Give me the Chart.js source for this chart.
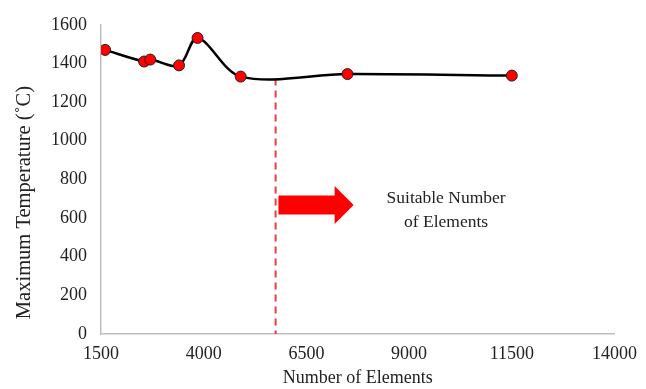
<!DOCTYPE html>
<html>
<head>
<meta charset="utf-8">
<script src="https://cdn.jsdelivr.net/npm/chart.js@4/dist/chart.umd.min.js"></script>
<style>
html,body{margin:0;padding:0;background:#fff;}
#wrap{width:646px;height:389px;}
</style>
</head>
<body>
<div id="wrap"><canvas id="c" width="646" height="389"></canvas></div>
<script>
// ---- data ----
const elements = [1600, 2550, 2700, 3400, 3850, 4900, 7500, 11500];
const maxTemp  = [1470, 1410, 1420, 1390, 1532, 1332, 1345, 1337];
const xTicks = [1500, 4000, 6500, 9000, 11500, 14000];
const yTicks = [0, 200, 400, 600, 800, 1000, 1200, 1400, 1600];
const cutoffX = [5750, 5750];
const cutoffY = [1322, 0];
const arrowX = [5820, 7650];   // tail, tip (data units)
const arrowY = 667;            // arrow axis level (data units)
const noteLines = ["Suitable Number", "of Elements"];
const noteX = 9900;
const noteY = [703, 577];
const yTitle = 'Maximum Temperature (˚C)';
const yTitleAt = 680;          // data value at title centre

const FONT = "'Liberation Serif', 'Times New Roman', serif";

const annot = {
  id: 'annot',
  afterDatasetsDraw(chart) {
    const {ctx, scales:{x, y}} = chart;
    const x0 = x.getPixelForValue(arrowX[0]);
    const x1 = x.getPixelForValue(arrowX[1]);
    const yc = y.getPixelForValue(arrowY);
    const bodyH = 19, headH = 38, headL = 19;
    ctx.save();
    ctx.fillStyle = '#ff0000';
    ctx.beginPath();
    ctx.moveTo(x0, yc - bodyH/2);
    ctx.lineTo(x1 - headL, yc - bodyH/2);
    ctx.lineTo(x1 - headL, yc - headH/2);
    ctx.lineTo(x1, yc);
    ctx.lineTo(x1 - headL, yc + headH/2);
    ctx.lineTo(x1 - headL, yc + bodyH/2);
    ctx.lineTo(x0, yc + bodyH/2);
    ctx.closePath();
    ctx.fill();
    ctx.fillStyle = '#222';
    ctx.font = "17.5px " + FONT;
    ctx.textAlign = 'center';
    ctx.textBaseline = 'middle';
    noteLines.forEach((t, i) => {
      ctx.fillText(t, x.getPixelForValue(noteX), y.getPixelForValue(noteY[i]));
    });
    // y-axis title
    ctx.translate(25, y.getPixelForValue(yTitleAt));
    ctx.rotate(-Math.PI / 2);
    ctx.font = "20.5px " + FONT;
    ctx.fillText(yTitle, 0, 0);
    ctx.restore();
  }
};

new Chart(document.getElementById('c'), {
  type: 'scatter',
  data: {
    datasets: [
      {
        data: elements.map((v, i) => ({x: v, y: maxTemp[i]})),
        showLine: true,
        tension: 0.33,
        borderColor: '#000',
        borderWidth: 2.5,
        pointBackgroundColor: '#ff0000',
        pointBorderColor: '#222',
        pointBorderWidth: 1,
        pointRadius: 5.5,
        order: 0
      },
      {
        data: cutoffX.map((v, i) => ({x: v, y: cutoffY[i]})),
        showLine: true,
        borderColor: '#f23a3a',
        borderWidth: 2,
        borderDash: [7, 5],
        pointRadius: 0,
        order: 1
      }
    ]
  },
  options: {
    responsive: false,
    animation: false,
    layout: {padding: {top: 21, right: 31, left: 0, bottom: 0}},
    plugins: {legend: {display: false}, tooltip: {enabled: false}},
    scales: {
      x: {
        type: 'linear',
        min: 1500, max: 14000,
        afterBuildTicks(s) { s.ticks = xTicks.map(v => ({value: v})); },
        afterFit(s) { s.height = 55; },
        grid: {display: false, drawTicks: false},
        border: {display: true, color: '#bfbfbf', width: 1.5},
        ticks: {color: '#222', font: {family: FONT, size: 18}, padding: 9, maxRotation: 0,
                callback: v => String(v)},
        title: {display: true, text: 'Number of Elements', color: '#222', font: {family: FONT, size: 18}, padding: {top: 0, bottom: 0}}
      },
      y: {
        min: 0, max: 1600,
        afterBuildTicks(s) { s.ticks = yTicks.map(v => ({value: v})); },
        afterFit(s) { s.width = 101; },
        grid: {display: false, drawTicks: false},
        border: {display: true, color: '#bfbfbf', width: 1.5},
        ticks: {color: '#222', font: {family: FONT, size: 18}, padding: 14,
                callback: v => String(v)},
        title: {display: false}
      }
    }
  },
  plugins: [annot]
});
</script>
</body>
</html>
